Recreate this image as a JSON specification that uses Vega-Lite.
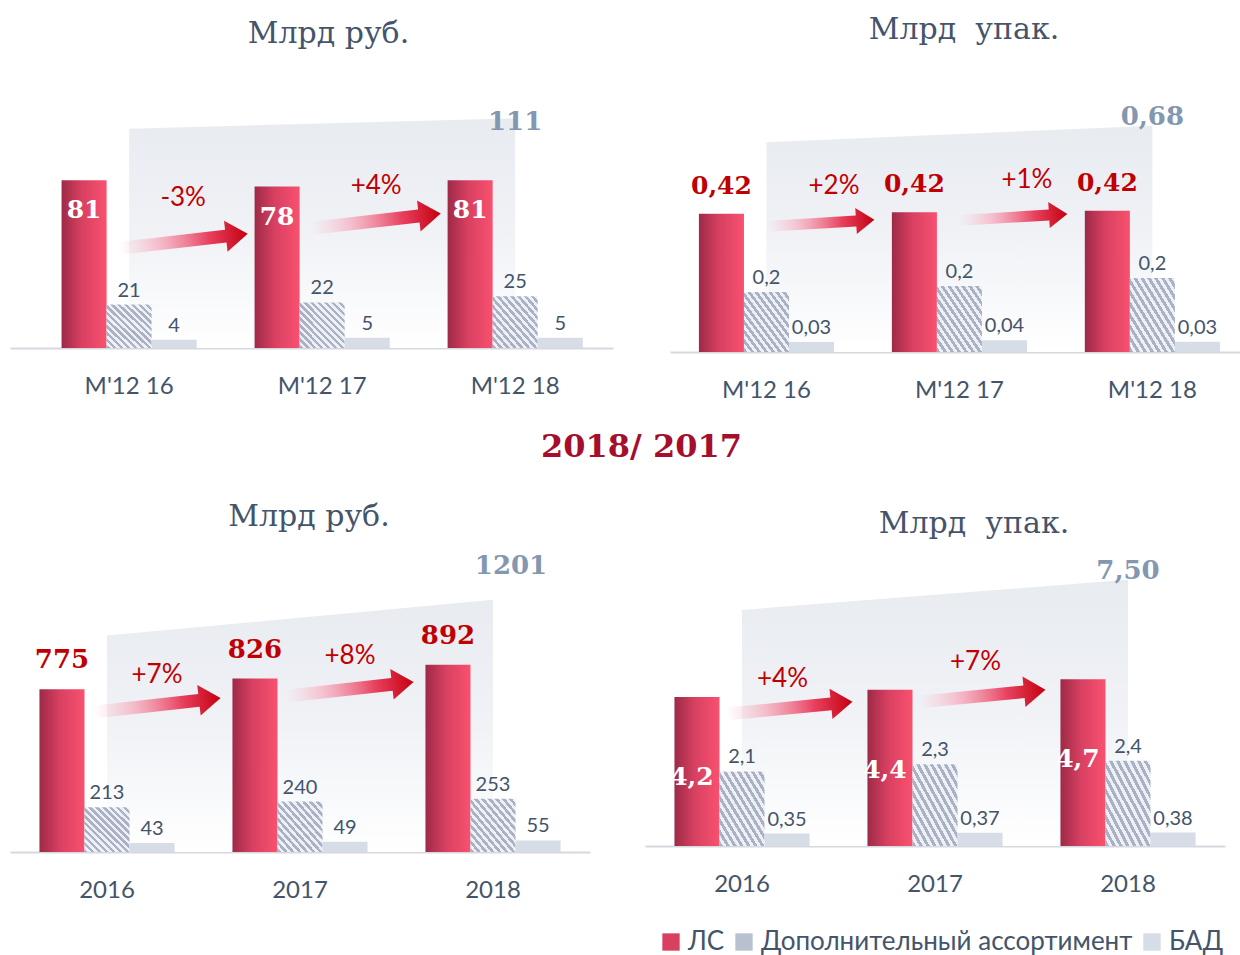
{
 "$schema": "https://vega.github.io/schema/vega-lite/v6.json",
 "background": "white",
 "padding": {"left": 10, "top": 15, "right": 0, "bottom": 5},
 "spacing": 28,
 "config": {
  "view": {"stroke": null},
  "title": {"font": "DejaVu Serif", "fontSize": 30, "fontWeight": "normal", "color": "#44546a", "anchor": "middle"},
  "axisX": {"domainColor": "#d5d9df", "domainWidth": 2, "ticks": false, "grid": false, "labelFont": "Lato", "labelFontSize": 24, "labelColor": "#44546a", "labelPadding": 26, "labelAngle": 0}
 },
 "datasets": {
  "tl": [
   {"cat": "M'12 16", "series": "ЛС", "value": 81, "label": "81"},
   {"cat": "M'12 16", "series": "Дополнительный ассортимент", "value": 21, "label": "21"},
   {"cat": "M'12 16", "series": "БАД", "value": 4, "label": "4"},
   {"cat": "M'12 17", "series": "ЛС", "value": 78, "label": "78"},
   {"cat": "M'12 17", "series": "Дополнительный ассортимент", "value": 22, "label": "22"},
   {"cat": "M'12 17", "series": "БАД", "value": 5, "label": "5"},
   {"cat": "M'12 18", "series": "ЛС", "value": 81, "label": "81"},
   {"cat": "M'12 18", "series": "Дополнительный ассортимент", "value": 25, "label": "25"},
   {"cat": "M'12 18", "series": "БАД", "value": 5, "label": "5"}
  ],
  "tl_tot": [{"cat": "M'12 16", "total": 106}, {"cat": "M'12 18", "total": 111, "label": "111"}],
  "tl_arr": [{"cat": "M'12 16", "pct": "-3%", "arrow_y": 51.7, "pct_y": 72.5}, {"cat": "M'12 17", "pct": "+4%", "arrow_y": 61.4, "pct_y": 78.3}],
  "tr": [
   {"cat": "M'12 16", "series": "ЛС", "value": 0.415, "label": "0,42"},
   {"cat": "M'12 16", "series": "Дополнительный ассортимент", "value": 0.18, "label": "0,2"},
   {"cat": "M'12 16", "series": "БАД", "value": 0.03, "label": "0,03"},
   {"cat": "M'12 17", "series": "ЛС", "value": 0.42, "label": "0,42"},
   {"cat": "M'12 17", "series": "Дополнительный ассортимент", "value": 0.198, "label": "0,2"},
   {"cat": "M'12 17", "series": "БАД", "value": 0.035, "label": "0,04"},
   {"cat": "M'12 18", "series": "ЛС", "value": 0.424, "label": "0,42"},
   {"cat": "M'12 18", "series": "Дополнительный ассортимент", "value": 0.222, "label": "0,2"},
   {"cat": "M'12 18", "series": "БАД", "value": 0.031, "label": "0,03"}
  ],
  "tr_tot": [{"cat": "M'12 16", "total": 0.63}, {"cat": "M'12 18", "total": 0.68, "label": "0,68"}],
  "tr_arr": [{"cat": "M'12 16", "pct": "+2%", "arrow_y": 0.387, "pct_y": 0.498}, {"cat": "M'12 17", "pct": "+1%", "arrow_y": 0.405, "pct_y": 0.516}],
  "bl": [
   {"cat": "2016", "series": "ЛС", "value": 775, "label": "775"},
   {"cat": "2016", "series": "Дополнительный ассортимент", "value": 213, "label": "213"},
   {"cat": "2016", "series": "БАД", "value": 43, "label": "43"},
   {"cat": "2017", "series": "ЛС", "value": 826, "label": "826"},
   {"cat": "2017", "series": "Дополнительный ассортимент", "value": 240, "label": "240"},
   {"cat": "2017", "series": "БАД", "value": 49, "label": "49"},
   {"cat": "2018", "series": "ЛС", "value": 892, "label": "892"},
   {"cat": "2018", "series": "Дополнительный ассортимент", "value": 253, "label": "253"},
   {"cat": "2018", "series": "БАД", "value": 55, "label": "55"}
  ],
  "bl_tot": [{"cat": "2016", "total": 1031}, {"cat": "2018", "total": 1201, "label": "1201"}],
  "bl_arr": [{"cat": "2016", "pct": "+7%", "arrow_y": 700, "pct_y": 843}, {"cat": "2017", "pct": "+8%", "arrow_y": 776, "pct_y": 933}],
  "br": [
   {"cat": "2016", "series": "ЛС", "value": 4.2, "label": "4,2"},
   {"cat": "2016", "series": "Дополнительный ассортимент", "value": 2.1, "label": "2,1"},
   {"cat": "2016", "series": "БАД", "value": 0.35, "label": "0,35"},
   {"cat": "2017", "series": "ЛС", "value": 4.4, "label": "4,4"},
   {"cat": "2017", "series": "Дополнительный ассортимент", "value": 2.3, "label": "2,3"},
   {"cat": "2017", "series": "БАД", "value": 0.37, "label": "0,37"},
   {"cat": "2018", "series": "ЛС", "value": 4.7, "label": "4,7"},
   {"cat": "2018", "series": "Дополнительный ассортимент", "value": 2.4, "label": "2,4"},
   {"cat": "2018", "series": "БАД", "value": 0.38, "label": "0,38"}
  ],
  "br_tot": [{"cat": "2016", "total": 6.65}, {"cat": "2018", "total": 7.5, "label": "7,50"}],
  "br_arr": [{"cat": "2016", "pct": "+4%", "arrow_y": 3.89, "pct_y": 4.7}, {"cat": "2017", "pct": "+7%", "arrow_y": 4.23, "pct_y": 5.18}]
 },
 "vconcat": [
  {
   "spacing": 57,
   "hconcat": [
    {
     "width": 603, "height": 250,
     "title": {"text": "Млрд руб.", "offset": 49, "anchor": "middle", "dx": 17},
     "layer": [
      {"data": {"name": "tl_tot"}, "mark": {"type": "area", "strokeWidth": 0, "fill": {"gradient": "linear", "x1": 0, "y1": 0, "x2": 0, "y2": 1, "stops": [{"offset": 0, "color": "#e8ebf0"}, {"offset": 0.5, "color": "#f0f2f6"}, {"offset": 1, "color": "#ffffff"}]}},
       "encoding": {"x": {"field": "cat", "type": "nominal", "title": null, "scale": {"domain": ["M'12 16", "M'12 17", "M'12 18"], "paddingInner": 0.3, "paddingOuter": 0.212, "align": 0.63}, "axis": {}}, "y": {"field": "total", "type": "quantitative", "scale": {"domain": [0, 120.8], "nice": false, "zero": true}, "axis": null}}},
      {"data": {"name": "tl"}, "transform": [{"filter": "datum.series === 'ЛС'"}], "mark": {"type": "bar", "strokeWidth": 0, "fill": {"gradient": "linear", "x1": 0, "y1": 0, "x2": 1, "y2": 0, "stops": [{"offset": 0, "color": "#9d2a47"}, {"offset": 0.45, "color": "#d84061"}, {"offset": 1, "color": "#f9516f"}]}},
       "encoding": {"x": {"field": "cat", "type": "nominal", "title": null}, "xOffset": {"field": "series", "scale": {"domain": ["ЛС", "Дополнительный ассортимент", "БАД"], "paddingInner": 0, "paddingOuter": 0}}, "y": {"field": "value", "type": "quantitative", "axis": null}}},
      {"data": {"name": "tl"}, "transform": [{"filter": "datum.series === 'Дополнительный ассортимент'"}], "mark": {"type": "bar", "strokeWidth": 0, "fill": {"gradient": "linear", "x1": 0, "y1": 1, "x2": 1, "y2": 0, "stops": [{"offset":0,"color":"#a8b2c4"},{"offset":0.0385,"color":"#a8b2c4"},{"offset":0.0385,"color":"#eef0f5"},{"offset":0.0769,"color":"#eef0f5"},{"offset":0.0769,"color":"#a8b2c4"},{"offset":0.1154,"color":"#a8b2c4"},{"offset":0.1154,"color":"#eef0f5"},{"offset":0.1538,"color":"#eef0f5"},{"offset":0.1538,"color":"#a8b2c4"},{"offset":0.1923,"color":"#a8b2c4"},{"offset":0.1923,"color":"#eef0f5"},{"offset":0.2308,"color":"#eef0f5"},{"offset":0.2308,"color":"#a8b2c4"},{"offset":0.2692,"color":"#a8b2c4"},{"offset":0.2692,"color":"#eef0f5"},{"offset":0.3077,"color":"#eef0f5"},{"offset":0.3077,"color":"#a8b2c4"},{"offset":0.3462,"color":"#a8b2c4"},{"offset":0.3462,"color":"#eef0f5"},{"offset":0.3846,"color":"#eef0f5"},{"offset":0.3846,"color":"#a8b2c4"},{"offset":0.4231,"color":"#a8b2c4"},{"offset":0.4231,"color":"#eef0f5"},{"offset":0.4615,"color":"#eef0f5"},{"offset":0.4615,"color":"#a8b2c4"},{"offset":0.5,"color":"#a8b2c4"},{"offset":0.5,"color":"#eef0f5"},{"offset":0.5385,"color":"#eef0f5"},{"offset":0.5385,"color":"#a8b2c4"},{"offset":0.5769,"color":"#a8b2c4"},{"offset":0.5769,"color":"#eef0f5"},{"offset":0.6154,"color":"#eef0f5"},{"offset":0.6154,"color":"#a8b2c4"},{"offset":0.6538,"color":"#a8b2c4"},{"offset":0.6538,"color":"#eef0f5"},{"offset":0.6923,"color":"#eef0f5"},{"offset":0.6923,"color":"#a8b2c4"},{"offset":0.7308,"color":"#a8b2c4"},{"offset":0.7308,"color":"#eef0f5"},{"offset":0.7692,"color":"#eef0f5"},{"offset":0.7692,"color":"#a8b2c4"},{"offset":0.8077,"color":"#a8b2c4"},{"offset":0.8077,"color":"#eef0f5"},{"offset":0.8462,"color":"#eef0f5"},{"offset":0.8462,"color":"#a8b2c4"},{"offset":0.8846,"color":"#a8b2c4"},{"offset":0.8846,"color":"#eef0f5"},{"offset":0.9231,"color":"#eef0f5"},{"offset":0.9231,"color":"#a8b2c4"},{"offset":0.9615,"color":"#a8b2c4"},{"offset":0.9615,"color":"#eef0f5"},{"offset":1,"color":"#eef0f5"}]}},
       "encoding": {"x": {"field": "cat", "type": "nominal", "title": null}, "xOffset": {"field": "series"}, "y": {"field": "value", "type": "quantitative", "axis": null}}},
      {"data": {"name": "tl"}, "transform": [{"filter": "datum.series === 'БАД'"}], "mark": {"type": "bar", "strokeWidth": 0, "fill": "#d6dde6"},
       "encoding": {"x": {"field": "cat", "type": "nominal", "title": null}, "xOffset": {"field": "series"}, "y": {"field": "value", "type": "quantitative", "axis": null}}},
      {"data": {"name": "tl"}, "transform": [{"filter": "datum.series === 'ЛС'"}], "mark": {"type": "text", "font": "DejaVu Serif", "fontWeight": "bold", "fontSize": 25, "color": "#ffffff", "baseline": "middle", "dy": 30},
       "encoding": {"x": {"field": "cat", "type": "nominal", "title": null}, "xOffset": {"field": "series"}, "y": {"field": "value", "type": "quantitative", "axis": null}, "text": {"field": "label"}}},
      {"data": {"name": "tl"}, "transform": [{"filter": "datum.series !== 'ЛС'"}], "mark": {"type": "text", "font": "Lato", "fontSize": 20, "color": "#44546a", "baseline": "alphabetic", "dy": -8},
       "encoding": {"x": {"field": "cat", "type": "nominal", "title": null}, "xOffset": {"field": "series"}, "y": {"field": "value", "type": "quantitative", "axis": null}, "text": {"field": "label"}}},
      {"data": {"name": "tl_arr"}, "mark": {"type": "point", "shape": "M-1,-0.1L0.66,-0.1L0.66,-0.24L1,0L0.66,0.24L0.66,0.1L-1,0.1Z", "size": 16900, "angle": -6.5, "filled": true, "opacity": 1, "strokeWidth": 0, "fill": {"gradient": "linear", "x1": 0, "y1": 0, "x2": 1, "y2": 0, "stops": [{"offset": 0, "color": "rgba(250,190,205,0)"}, {"offset": 0.3, "color": "rgba(246,170,188,0.7)"}, {"offset": 0.7, "color": "#e8405e"}, {"offset": 1, "color": "#c4000f"}]}},
       "encoding": {"x": {"field": "cat", "type": "nominal", "title": null, "bandPosition": 0.9}, "y": {"field": "arrow_y", "type": "quantitative", "axis": null}}},
      {"data": {"name": "tl_arr"}, "mark": {"type": "text", "font": "Lato", "fontSize": 26, "color": "#c00000", "baseline": "middle"},
       "encoding": {"x": {"field": "cat", "type": "nominal", "title": null, "bandPosition": 0.9}, "y": {"field": "pct_y", "type": "quantitative", "axis": null}, "text": {"field": "pct"}}},
      {"data": {"name": "tl_tot"}, "transform": [{"filter": "datum.label"}], "mark": {"type": "text", "font": "DejaVu Serif", "fontWeight": "bold", "fontSize": 26, "color": "#8497b0", "baseline": "middle", "dy": 4},
       "encoding": {"x": {"field": "cat", "type": "nominal", "title": null}, "y": {"field": "total", "type": "quantitative", "axis": null}, "text": {"field": "label"}}}
     ]
    },
    {
     "width": 570, "height": 254,
     "title": {"text": "Млрд\u00a0 упак.", "offset": 53, "anchor": "middle", "dx": 9},
     "layer": [
      {"data": {"name": "tr_tot"}, "mark": {"type": "area", "strokeWidth": 0, "fill": {"gradient": "linear", "x1": 0, "y1": 0, "x2": 0, "y2": 1, "stops": [{"offset": 0, "color": "#e8ebf0"}, {"offset": 0.5, "color": "#f0f2f6"}, {"offset": 1, "color": "#ffffff"}]}},
       "encoding": {"x": {"field": "cat", "type": "nominal", "title": null, "scale": {"domain": ["M'12 16", "M'12 17", "M'12 18"], "paddingInner": 0.3, "paddingOuter": 0.127, "align": 0.59}, "axis": {}}, "y": {"field": "total", "type": "quantitative", "scale": {"domain": [0, 0.763], "nice": false, "zero": true}, "axis": null}}},
      {"data": {"name": "tr"}, "transform": [{"filter": "datum.series === 'ЛС'"}], "mark": {"type": "bar", "strokeWidth": 0, "fill": {"gradient": "linear", "x1": 0, "y1": 0, "x2": 1, "y2": 0, "stops": [{"offset": 0, "color": "#9d2a47"}, {"offset": 0.45, "color": "#d84061"}, {"offset": 1, "color": "#f9516f"}]}},
       "encoding": {"x": {"field": "cat", "type": "nominal", "title": null}, "xOffset": {"field": "series", "scale": {"domain": ["ЛС", "Дополнительный ассортимент", "БАД"], "paddingInner": 0, "paddingOuter": 0}}, "y": {"field": "value", "type": "quantitative", "axis": null}}},
      {"data": {"name": "tr"}, "transform": [{"filter": "datum.series === 'Дополнительный ассортимент'"}], "mark": {"type": "bar", "strokeWidth": 0, "fill": {"gradient": "linear", "x1": 0, "y1": 1, "x2": 1, "y2": 0, "stops": [{"offset":0,"color":"#a8b2c4"},{"offset":0.0385,"color":"#a8b2c4"},{"offset":0.0385,"color":"#eef0f5"},{"offset":0.0769,"color":"#eef0f5"},{"offset":0.0769,"color":"#a8b2c4"},{"offset":0.1154,"color":"#a8b2c4"},{"offset":0.1154,"color":"#eef0f5"},{"offset":0.1538,"color":"#eef0f5"},{"offset":0.1538,"color":"#a8b2c4"},{"offset":0.1923,"color":"#a8b2c4"},{"offset":0.1923,"color":"#eef0f5"},{"offset":0.2308,"color":"#eef0f5"},{"offset":0.2308,"color":"#a8b2c4"},{"offset":0.2692,"color":"#a8b2c4"},{"offset":0.2692,"color":"#eef0f5"},{"offset":0.3077,"color":"#eef0f5"},{"offset":0.3077,"color":"#a8b2c4"},{"offset":0.3462,"color":"#a8b2c4"},{"offset":0.3462,"color":"#eef0f5"},{"offset":0.3846,"color":"#eef0f5"},{"offset":0.3846,"color":"#a8b2c4"},{"offset":0.4231,"color":"#a8b2c4"},{"offset":0.4231,"color":"#eef0f5"},{"offset":0.4615,"color":"#eef0f5"},{"offset":0.4615,"color":"#a8b2c4"},{"offset":0.5,"color":"#a8b2c4"},{"offset":0.5,"color":"#eef0f5"},{"offset":0.5385,"color":"#eef0f5"},{"offset":0.5385,"color":"#a8b2c4"},{"offset":0.5769,"color":"#a8b2c4"},{"offset":0.5769,"color":"#eef0f5"},{"offset":0.6154,"color":"#eef0f5"},{"offset":0.6154,"color":"#a8b2c4"},{"offset":0.6538,"color":"#a8b2c4"},{"offset":0.6538,"color":"#eef0f5"},{"offset":0.6923,"color":"#eef0f5"},{"offset":0.6923,"color":"#a8b2c4"},{"offset":0.7308,"color":"#a8b2c4"},{"offset":0.7308,"color":"#eef0f5"},{"offset":0.7692,"color":"#eef0f5"},{"offset":0.7692,"color":"#a8b2c4"},{"offset":0.8077,"color":"#a8b2c4"},{"offset":0.8077,"color":"#eef0f5"},{"offset":0.8462,"color":"#eef0f5"},{"offset":0.8462,"color":"#a8b2c4"},{"offset":0.8846,"color":"#a8b2c4"},{"offset":0.8846,"color":"#eef0f5"},{"offset":0.9231,"color":"#eef0f5"},{"offset":0.9231,"color":"#a8b2c4"},{"offset":0.9615,"color":"#a8b2c4"},{"offset":0.9615,"color":"#eef0f5"},{"offset":1,"color":"#eef0f5"}]}},
       "encoding": {"x": {"field": "cat", "type": "nominal", "title": null}, "xOffset": {"field": "series"}, "y": {"field": "value", "type": "quantitative", "axis": null}}},
      {"data": {"name": "tr"}, "transform": [{"filter": "datum.series === 'БАД'"}], "mark": {"type": "bar", "strokeWidth": 0, "fill": "#d6dde6"},
       "encoding": {"x": {"field": "cat", "type": "nominal", "title": null}, "xOffset": {"field": "series"}, "y": {"field": "value", "type": "quantitative", "axis": null}}},
      {"data": {"name": "tr"}, "transform": [{"filter": "datum.series === 'ЛС'"}], "mark": {"type": "text", "font": "DejaVu Serif", "fontWeight": "bold", "fontSize": 25, "color": "#c00000", "baseline": "middle", "dy": -28},
       "encoding": {"x": {"field": "cat", "type": "nominal", "title": null}, "xOffset": {"field": "series"}, "y": {"field": "value", "type": "quantitative", "axis": null}, "text": {"field": "label"}}},
      {"data": {"name": "tr"}, "transform": [{"filter": "datum.series !== 'ЛС'"}], "mark": {"type": "text", "font": "Lato", "fontSize": 20, "color": "#44546a", "baseline": "alphabetic", "dy": -8},
       "encoding": {"x": {"field": "cat", "type": "nominal", "title": null}, "xOffset": {"field": "series"}, "y": {"field": "value", "type": "quantitative", "axis": null}, "text": {"field": "label"}}},
      {"data": {"name": "tr_arr"}, "mark": {"type": "point", "shape": "M-1,-0.1L0.66,-0.1L0.66,-0.24L1,0L0.66,0.24L0.66,0.1L-1,0.1Z", "size": 11664, "angle": -3.5, "filled": true, "opacity": 1, "strokeWidth": 0, "fill": {"gradient": "linear", "x1": 0, "y1": 0, "x2": 1, "y2": 0, "stops": [{"offset": 0, "color": "rgba(250,190,205,0)"}, {"offset": 0.3, "color": "rgba(246,170,188,0.7)"}, {"offset": 0.7, "color": "#e8405e"}, {"offset": 1, "color": "#c4000f"}]}},
       "encoding": {"x": {"field": "cat", "type": "nominal", "title": null, "bandPosition": 0.9}, "y": {"field": "arrow_y", "type": "quantitative", "axis": null}}},
      {"data": {"name": "tr_arr"}, "mark": {"type": "text", "font": "Lato", "fontSize": 26, "color": "#c00000", "baseline": "middle"},
       "encoding": {"x": {"field": "cat", "type": "nominal", "title": null, "bandPosition": 1.0}, "y": {"field": "pct_y", "type": "quantitative", "axis": null}, "text": {"field": "pct"}}},
      {"data": {"name": "tr_tot"}, "transform": [{"filter": "datum.label"}], "mark": {"type": "text", "font": "DejaVu Serif", "fontWeight": "bold", "fontSize": 26, "color": "#8497b0", "baseline": "middle", "dy": -9},
       "encoding": {"x": {"field": "cat", "type": "nominal", "title": null}, "y": {"field": "total", "type": "quantitative", "axis": null}, "text": {"field": "label"}}}
     ]
    }
   ]
  },
  {
   "spacing": 55,
   "title": {"text": "2018/ 2017", "font": "DejaVu Serif", "fontSize": 32, "fontWeight": "bold", "color": "#a50e2d", "anchor": "start", "frame": "group", "dx": 531, "offset": 38},
   "hconcat": [
    {
     "width": 580, "height": 286,
     "title": {"text": "Млрд руб.", "offset": 21, "anchor": "middle", "dx": 9},
     "layer": [
      {"data": {"name": "bl_tot"}, "mark": {"type": "area", "strokeWidth": 0, "fill": {"gradient": "linear", "x1": 0, "y1": 0, "x2": 0, "y2": 1, "stops": [{"offset": 0, "color": "#e8ebf0"}, {"offset": 0.5, "color": "#f0f2f6"}, {"offset": 1, "color": "#ffffff"}]}},
       "encoding": {"x": {"field": "cat", "type": "nominal", "title": null, "scale": {"domain": ["2016", "2017", "2018"], "paddingInner": 0.3, "paddingOuter": 0.1526, "align": 0.5}, "axis": {}}, "y": {"field": "total", "type": "quantitative", "scale": {"domain": [0, 1362], "nice": false, "zero": true}, "axis": null}}},
      {"data": {"name": "bl"}, "transform": [{"filter": "datum.series === 'ЛС'"}], "mark": {"type": "bar", "strokeWidth": 0, "fill": {"gradient": "linear", "x1": 0, "y1": 0, "x2": 1, "y2": 0, "stops": [{"offset": 0, "color": "#9d2a47"}, {"offset": 0.45, "color": "#d84061"}, {"offset": 1, "color": "#f9516f"}]}},
       "encoding": {"x": {"field": "cat", "type": "nominal", "title": null}, "xOffset": {"field": "series", "scale": {"domain": ["ЛС", "Дополнительный ассортимент", "БАД"], "paddingInner": 0, "paddingOuter": 0}}, "y": {"field": "value", "type": "quantitative", "axis": null}}},
      {"data": {"name": "bl"}, "transform": [{"filter": "datum.series === 'Дополнительный ассортимент'"}], "mark": {"type": "bar", "strokeWidth": 0, "fill": {"gradient": "linear", "x1": 0, "y1": 1, "x2": 1, "y2": 0, "stops": [{"offset":0,"color":"#a8b2c4"},{"offset":0.0385,"color":"#a8b2c4"},{"offset":0.0385,"color":"#eef0f5"},{"offset":0.0769,"color":"#eef0f5"},{"offset":0.0769,"color":"#a8b2c4"},{"offset":0.1154,"color":"#a8b2c4"},{"offset":0.1154,"color":"#eef0f5"},{"offset":0.1538,"color":"#eef0f5"},{"offset":0.1538,"color":"#a8b2c4"},{"offset":0.1923,"color":"#a8b2c4"},{"offset":0.1923,"color":"#eef0f5"},{"offset":0.2308,"color":"#eef0f5"},{"offset":0.2308,"color":"#a8b2c4"},{"offset":0.2692,"color":"#a8b2c4"},{"offset":0.2692,"color":"#eef0f5"},{"offset":0.3077,"color":"#eef0f5"},{"offset":0.3077,"color":"#a8b2c4"},{"offset":0.3462,"color":"#a8b2c4"},{"offset":0.3462,"color":"#eef0f5"},{"offset":0.3846,"color":"#eef0f5"},{"offset":0.3846,"color":"#a8b2c4"},{"offset":0.4231,"color":"#a8b2c4"},{"offset":0.4231,"color":"#eef0f5"},{"offset":0.4615,"color":"#eef0f5"},{"offset":0.4615,"color":"#a8b2c4"},{"offset":0.5,"color":"#a8b2c4"},{"offset":0.5,"color":"#eef0f5"},{"offset":0.5385,"color":"#eef0f5"},{"offset":0.5385,"color":"#a8b2c4"},{"offset":0.5769,"color":"#a8b2c4"},{"offset":0.5769,"color":"#eef0f5"},{"offset":0.6154,"color":"#eef0f5"},{"offset":0.6154,"color":"#a8b2c4"},{"offset":0.6538,"color":"#a8b2c4"},{"offset":0.6538,"color":"#eef0f5"},{"offset":0.6923,"color":"#eef0f5"},{"offset":0.6923,"color":"#a8b2c4"},{"offset":0.7308,"color":"#a8b2c4"},{"offset":0.7308,"color":"#eef0f5"},{"offset":0.7692,"color":"#eef0f5"},{"offset":0.7692,"color":"#a8b2c4"},{"offset":0.8077,"color":"#a8b2c4"},{"offset":0.8077,"color":"#eef0f5"},{"offset":0.8462,"color":"#eef0f5"},{"offset":0.8462,"color":"#a8b2c4"},{"offset":0.8846,"color":"#a8b2c4"},{"offset":0.8846,"color":"#eef0f5"},{"offset":0.9231,"color":"#eef0f5"},{"offset":0.9231,"color":"#a8b2c4"},{"offset":0.9615,"color":"#a8b2c4"},{"offset":0.9615,"color":"#eef0f5"},{"offset":1,"color":"#eef0f5"}]}},
       "encoding": {"x": {"field": "cat", "type": "nominal", "title": null}, "xOffset": {"field": "series"}, "y": {"field": "value", "type": "quantitative", "axis": null}}},
      {"data": {"name": "bl"}, "transform": [{"filter": "datum.series === 'БАД'"}], "mark": {"type": "bar", "strokeWidth": 0, "fill": "#d6dde6"},
       "encoding": {"x": {"field": "cat", "type": "nominal", "title": null}, "xOffset": {"field": "series"}, "y": {"field": "value", "type": "quantitative", "axis": null}}},
      {"data": {"name": "bl"}, "transform": [{"filter": "datum.series === 'ЛС'"}], "mark": {"type": "text", "font": "DejaVu Serif", "fontWeight": "bold", "fontSize": 26, "color": "#c00000", "baseline": "middle", "dy": -29},
       "encoding": {"x": {"field": "cat", "type": "nominal", "title": null}, "xOffset": {"field": "series"}, "y": {"field": "value", "type": "quantitative", "axis": null}, "text": {"field": "label"}}},
      {"data": {"name": "bl"}, "transform": [{"filter": "datum.series !== 'ЛС'"}], "mark": {"type": "text", "font": "Lato", "fontSize": 20, "color": "#44546a", "baseline": "alphabetic", "dy": -8},
       "encoding": {"x": {"field": "cat", "type": "nominal", "title": null}, "xOffset": {"field": "series"}, "y": {"field": "value", "type": "quantitative", "axis": null}, "text": {"field": "label"}}},
      {"data": {"name": "bl_arr"}, "mark": {"type": "point", "shape": "M-1,-0.1L0.66,-0.1L0.66,-0.24L1,0L0.66,0.24L0.66,0.1L-1,0.1Z", "size": 16384, "angle": -6.4, "filled": true, "opacity": 1, "strokeWidth": 0, "fill": {"gradient": "linear", "x1": 0, "y1": 0, "x2": 1, "y2": 0, "stops": [{"offset": 0, "color": "rgba(250,190,205,0)"}, {"offset": 0.3, "color": "rgba(246,170,188,0.7)"}, {"offset": 0.7, "color": "#e8405e"}, {"offset": 1, "color": "#c4000f"}]}},
       "encoding": {"x": {"field": "cat", "type": "nominal", "title": null, "bandPosition": 0.87}, "y": {"field": "arrow_y", "type": "quantitative", "axis": null}}},
      {"data": {"name": "bl_arr"}, "mark": {"type": "text", "font": "Lato", "fontSize": 26, "color": "#c00000", "baseline": "middle"},
       "encoding": {"x": {"field": "cat", "type": "nominal", "title": null, "bandPosition": 0.87}, "y": {"field": "pct_y", "type": "quantitative", "axis": null}, "text": {"field": "pct"}}},
      {"data": {"name": "bl_tot"}, "transform": [{"filter": "datum.label"}], "mark": {"type": "text", "font": "DejaVu Serif", "fontWeight": "bold", "fontSize": 26, "color": "#8497b0", "baseline": "middle", "dy": -34, "dx": 18},
       "encoding": {"x": {"field": "cat", "type": "nominal", "title": null}, "y": {"field": "total", "type": "quantitative", "axis": null}, "text": {"field": "label"}}}
     ]
    },
    {
     "width": 580, "height": 280,
     "title": {"text": "Млрд\u00a0 упак.", "offset": 19, "anchor": "middle", "dx": 39},
     "layer": [
      {"data": {"name": "br_tot"}, "mark": {"type": "area", "strokeWidth": 0, "fill": {"gradient": "linear", "x1": 0, "y1": 0, "x2": 0, "y2": 1, "stops": [{"offset": 0, "color": "#e8ebf0"}, {"offset": 0.5, "color": "#f0f2f6"}, {"offset": 1, "color": "#ffffff"}]}},
       "encoding": {"x": {"field": "cat", "type": "nominal", "title": null, "scale": {"domain": ["2016", "2017", "2018"], "paddingInner": 0.3, "paddingOuter": 0.1526, "align": 0.5}, "axis": {}}, "y": {"field": "total", "type": "quantitative", "scale": {"domain": [0, 7.887], "nice": false, "zero": true}, "axis": null}}},
      {"data": {"name": "br"}, "transform": [{"filter": "datum.series === 'ЛС'"}], "mark": {"type": "bar", "strokeWidth": 0, "fill": {"gradient": "linear", "x1": 0, "y1": 0, "x2": 1, "y2": 0, "stops": [{"offset": 0, "color": "#9d2a47"}, {"offset": 0.45, "color": "#d84061"}, {"offset": 1, "color": "#f9516f"}]}},
       "encoding": {"x": {"field": "cat", "type": "nominal", "title": null}, "xOffset": {"field": "series", "scale": {"domain": ["ЛС", "Дополнительный ассортимент", "БАД"], "paddingInner": 0, "paddingOuter": 0}}, "y": {"field": "value", "type": "quantitative", "axis": null}}},
      {"data": {"name": "br"}, "transform": [{"filter": "datum.series === 'Дополнительный ассортимент'"}], "mark": {"type": "bar", "strokeWidth": 0, "fill": {"gradient": "linear", "x1": 0, "y1": 1, "x2": 1, "y2": 0, "stops": [{"offset":0,"color":"#a8b2c4"},{"offset":0.0385,"color":"#a8b2c4"},{"offset":0.0385,"color":"#eef0f5"},{"offset":0.0769,"color":"#eef0f5"},{"offset":0.0769,"color":"#a8b2c4"},{"offset":0.1154,"color":"#a8b2c4"},{"offset":0.1154,"color":"#eef0f5"},{"offset":0.1538,"color":"#eef0f5"},{"offset":0.1538,"color":"#a8b2c4"},{"offset":0.1923,"color":"#a8b2c4"},{"offset":0.1923,"color":"#eef0f5"},{"offset":0.2308,"color":"#eef0f5"},{"offset":0.2308,"color":"#a8b2c4"},{"offset":0.2692,"color":"#a8b2c4"},{"offset":0.2692,"color":"#eef0f5"},{"offset":0.3077,"color":"#eef0f5"},{"offset":0.3077,"color":"#a8b2c4"},{"offset":0.3462,"color":"#a8b2c4"},{"offset":0.3462,"color":"#eef0f5"},{"offset":0.3846,"color":"#eef0f5"},{"offset":0.3846,"color":"#a8b2c4"},{"offset":0.4231,"color":"#a8b2c4"},{"offset":0.4231,"color":"#eef0f5"},{"offset":0.4615,"color":"#eef0f5"},{"offset":0.4615,"color":"#a8b2c4"},{"offset":0.5,"color":"#a8b2c4"},{"offset":0.5,"color":"#eef0f5"},{"offset":0.5385,"color":"#eef0f5"},{"offset":0.5385,"color":"#a8b2c4"},{"offset":0.5769,"color":"#a8b2c4"},{"offset":0.5769,"color":"#eef0f5"},{"offset":0.6154,"color":"#eef0f5"},{"offset":0.6154,"color":"#a8b2c4"},{"offset":0.6538,"color":"#a8b2c4"},{"offset":0.6538,"color":"#eef0f5"},{"offset":0.6923,"color":"#eef0f5"},{"offset":0.6923,"color":"#a8b2c4"},{"offset":0.7308,"color":"#a8b2c4"},{"offset":0.7308,"color":"#eef0f5"},{"offset":0.7692,"color":"#eef0f5"},{"offset":0.7692,"color":"#a8b2c4"},{"offset":0.8077,"color":"#a8b2c4"},{"offset":0.8077,"color":"#eef0f5"},{"offset":0.8462,"color":"#eef0f5"},{"offset":0.8462,"color":"#a8b2c4"},{"offset":0.8846,"color":"#a8b2c4"},{"offset":0.8846,"color":"#eef0f5"},{"offset":0.9231,"color":"#eef0f5"},{"offset":0.9231,"color":"#a8b2c4"},{"offset":0.9615,"color":"#a8b2c4"},{"offset":0.9615,"color":"#eef0f5"},{"offset":1,"color":"#eef0f5"}]}},
       "encoding": {"x": {"field": "cat", "type": "nominal", "title": null}, "xOffset": {"field": "series"}, "y": {"field": "value", "type": "quantitative", "axis": null}}},
      {"data": {"name": "br"}, "transform": [{"filter": "datum.series === 'БАД'"}], "mark": {"type": "bar", "strokeWidth": 0, "fill": "#d6dde6"},
       "encoding": {"x": {"field": "cat", "type": "nominal", "title": null}, "xOffset": {"field": "series"}, "y": {"field": "value", "type": "quantitative", "axis": null}}},
      {"data": {"name": "br"}, "transform": [{"filter": "datum.series === 'ЛС'"}], "mark": {"type": "text", "font": "DejaVu Serif", "fontWeight": "bold", "fontSize": 25, "color": "#ffffff", "baseline": "middle", "dy": 80, "dx": -5},
       "encoding": {"x": {"field": "cat", "type": "nominal", "title": null}, "xOffset": {"field": "series"}, "y": {"field": "value", "type": "quantitative", "axis": null}, "text": {"field": "label"}}},
      {"data": {"name": "br"}, "transform": [{"filter": "datum.series !== 'ЛС'"}], "mark": {"type": "text", "font": "Lato", "fontSize": 20, "color": "#44546a", "baseline": "alphabetic", "dy": -8},
       "encoding": {"x": {"field": "cat", "type": "nominal", "title": null}, "xOffset": {"field": "series"}, "y": {"field": "value", "type": "quantitative", "axis": null}, "text": {"field": "label"}}},
      {"data": {"name": "br_arr"}, "mark": {"type": "point", "shape": "M-1,-0.1L0.66,-0.1L0.66,-0.24L1,0L0.66,0.24L0.66,0.1L-1,0.1Z", "size": 16129, "angle": -5.6, "filled": true, "opacity": 1, "strokeWidth": 0, "fill": {"gradient": "linear", "x1": 0, "y1": 0, "x2": 1, "y2": 0, "stops": [{"offset": 0, "color": "rgba(250,190,205,0)"}, {"offset": 0.3, "color": "rgba(246,170,188,0.7)"}, {"offset": 0.7, "color": "#e8405e"}, {"offset": 1, "color": "#c4000f"}]}},
       "encoding": {"x": {"field": "cat", "type": "nominal", "title": null, "bandPosition": 0.85}, "y": {"field": "arrow_y", "type": "quantitative", "axis": null}}},
      {"data": {"name": "br_arr"}, "mark": {"type": "text", "font": "Lato", "fontSize": 26, "color": "#c00000", "baseline": "middle"},
       "encoding": {"x": {"field": "cat", "type": "nominal", "title": null, "bandPosition": 0.8}, "y": {"field": "pct_y", "type": "quantitative", "axis": null}, "text": {"field": "pct"}}},
      {"data": {"name": "br_tot"}, "transform": [{"filter": "datum.label"}], "mark": {"type": "text", "font": "DejaVu Serif", "fontWeight": "bold", "fontSize": 26, "color": "#8497b0", "baseline": "middle", "dy": -9},
       "encoding": {"x": {"field": "cat", "type": "nominal", "title": null}, "y": {"field": "total", "type": "quantitative", "axis": null}, "text": {"field": "label"}}},
      {"data": {"name": "br"}, "mark": {"type": "point", "opacity": 0, "filled": true},
       "encoding": {"x": {"field": "cat", "type": "nominal", "title": null}, "xOffset": {"field": "series"}, "y": {"field": "value", "type": "quantitative", "axis": null},
        "color": {"field": "series", "type": "nominal", "scale": {"domain": ["ЛС", "Дополнительный ассортимент", "БАД"], "range": ["#d9405f", "#b8c1d0", "#d6dde6"]},
         "legend": {"orient": "none", "legendX": 648, "legendY": 831, "direction": "horizontal", "title": null, "symbolType": "square", "symbolSize": 300, "symbolOpacity": 1, "symbolStrokeWidth": 0, "labelFont": "Lato", "labelFontSize": 26, "labelColor": "#44546a", "labelLimit": 600, "columnPadding": 6, "labelOffset": 4}}}}
     ]
    }
   ]
  }
 ]
}
